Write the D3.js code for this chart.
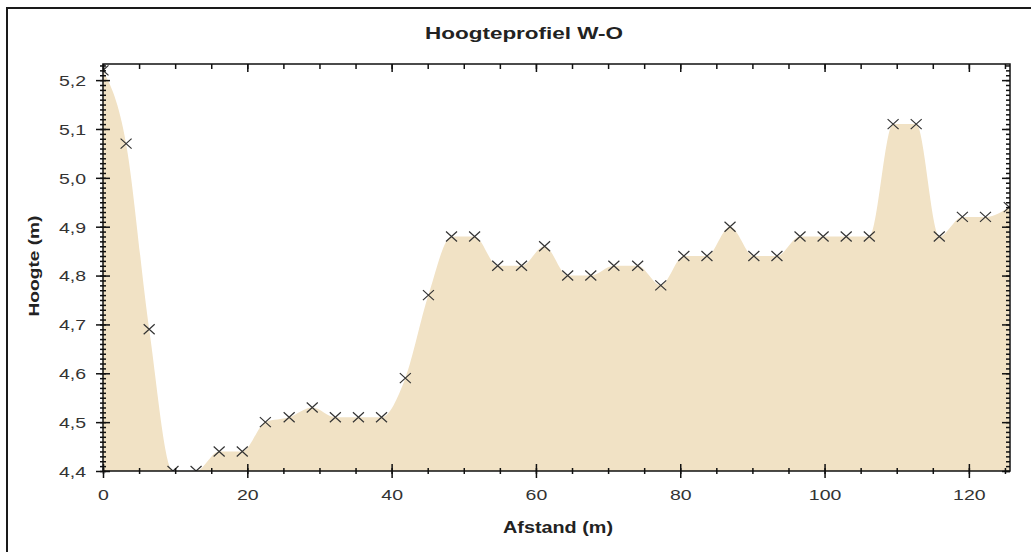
<!DOCTYPE html>
<html>
<head>
<meta charset="utf-8">
<script src="https://cdn.jsdelivr.net/npm/d3@7"></script>
<style>
  html, body { margin: 0; padding: 0; background: #ffffff; }
  svg { display: block; }
  text { font-family: "Liberation Sans", Arial, sans-serif; }
</style>
</head>
<body>
<svg id="chart" width="1031" height="552"></svg>
<script>
// ---- data ----
const distances = [0, 3.2, 6.4, 9.7, 12.9, 16.1, 19.3, 22.5, 25.8, 29.0,
  32.2, 35.4, 38.6, 41.9, 45.1, 48.3, 51.5, 54.7, 58.0, 61.2,
  64.4, 67.6, 70.8, 74.1, 77.3, 80.5, 83.7, 86.9, 90.2, 93.4,
  96.6, 99.8, 103.0, 106.2, 109.5, 112.7, 115.9, 119.1, 122.3, 125.6];
const heights = [5.22, 5.07, 4.69, 4.40, 4.40, 4.44, 4.44, 4.50, 4.51, 4.53,
  4.51, 4.51, 4.51, 4.59, 4.76, 4.88, 4.88, 4.82, 4.82, 4.86,
  4.80, 4.80, 4.82, 4.82, 4.78, 4.84, 4.84, 4.90, 4.84, 4.84,
  4.88, 4.88, 4.88, 4.88, 5.11, 5.11, 4.88, 4.92, 4.92, 4.94];
const xMajorTicks = [0, 20, 40, 60, 80, 100, 120];
const yMajorTicks = [4.4, 4.5, 4.6, 4.7, 4.8, 4.9, 5.0, 5.1, 5.2];
const xDomain = [0, 125.7];
const yDomain = [4.4, 5.233];
const titleText = "Hoogteprofiel W-O";
const xLabelText = "Afstand (m)";
const yLabelText = "Hoogte (m)";

(function () {
const data = distances.map((d, i) => ({ x: d, y: heights[i] }));

const svg = d3.select("#chart");
const pL = 103, pR = 1010, pT = 64, pB = 471;

const x = d3.scaleLinear().domain(xDomain).range([pL, pR]);
const y = d3.scaleLinear().domain(yDomain).range([pB, pT]);

const xMinorTicks = d3.range(0, 126, 5);
const yMinorTicks = d3.range(440, 524, 1).map(v => v / 100);

const nl = d3.formatLocale({ decimal: ",", thousands: ".", grouping: [3], currency: ["", ""] });
const fmtY = nl.format(".1f");

// outer frame
svg.append("rect")
  .attr("x", 7).attr("y", 8)
  .attr("width", 1100).attr("height", 600)
  .attr("fill", "none").attr("stroke", "#1a1a1a").attr("stroke-width", 2);

// clip
svg.append("defs").append("clipPath").attr("id", "plotclip")
  .append("rect").attr("x", pL).attr("y", pT)
  .attr("width", pR - pL).attr("height", pB - pT);

const plot = svg.append("g").attr("clip-path", "url(#plotclip)");

const area = d3.area()
  .x(d => x(d.x))
  .y0(pB)
  .y1(d => y(d.y))
  .curve(d3.curveMonotoneX);

plot.append("path")
  .datum(data)
  .attr("d", area)
  .attr("fill", "#f1e2c5");

// markers (x crosses)
const mk = plot.append("g").attr("stroke", "#333").attr("stroke-width", 1.2).attr("fill", "none");
mk.selectAll("path.mark").data(data).join("path")
  .attr("class", "mark")
  .attr("d", d => {
    const cx = x(d.x), cy = y(d.y), hw = 5.5, hh = 5;
    return `M${cx - hw},${cy - hh}L${cx + hw},${cy + hh}M${cx - hw},${cy + hh}L${cx + hw},${cy - hh}`;
  });

function styleAxis(g) {
  g.select(".domain").remove();
  g.selectAll(".tick line").attr("stroke", "#111").attr("stroke-width", 1.5);
}

// bottom axis: crossing ticks
svg.append("g").attr("transform", `translate(0,${pB})`)
  .call(d3.axisBottom(x).tickValues(xMinorTicks).tickSize(3).tickFormat(""))
  .call(styleAxis);
svg.append("g").attr("transform", `translate(0,${pB})`)
  .call(d3.axisTop(x).tickValues(xMinorTicks).tickSize(3).tickFormat(""))
  .call(styleAxis);
svg.append("g").attr("transform", `translate(0,${pB})`)
  .call(d3.axisBottom(x).tickValues(xMajorTicks).tickSize(7).tickFormat(""))
  .call(styleAxis);
svg.append("g").attr("transform", `translate(0,${pB})`)
  .call(d3.axisTop(x).tickValues(xMajorTicks).tickSize(7).tickFormat(""))
  .call(styleAxis);
const xLab = svg.append("g").attr("transform", `translate(0,${pB})`)
  .call(d3.axisBottom(x).tickValues(xMajorTicks).tickSize(0).tickFormat(d3.format("d")));
xLab.select(".domain").remove();
xLab.selectAll(".tick text")
  .attr("y", 29).attr("dy", 0)
  .attr("fill", "#333")
  .style("font-size", "15px")
  .attr("transform", "scale(1.3,1)");

// left axis: crossing ticks
svg.append("g").attr("transform", `translate(${pL},0)`)
  .call(d3.axisLeft(y).tickValues(yMinorTicks).tickSize(3).tickFormat(""))
  .call(styleAxis);
svg.append("g").attr("transform", `translate(${pL},0)`)
  .call(d3.axisRight(y).tickValues(yMinorTicks).tickSize(3).tickFormat(""))
  .call(styleAxis);
svg.append("g").attr("transform", `translate(${pL},0)`)
  .call(d3.axisLeft(y).tickValues(yMajorTicks).tickSize(7).tickFormat(""))
  .call(styleAxis);
svg.append("g").attr("transform", `translate(${pL},0)`)
  .call(d3.axisRight(y).tickValues(yMajorTicks).tickSize(7).tickFormat(""))
  .call(styleAxis);
const yLab = svg.append("g").attr("transform", `translate(${pL},0)`)
  .call(d3.axisLeft(y).tickValues(yMajorTicks).tickSize(0).tickFormat(fmtY));
yLab.select(".domain").remove();
yLab.selectAll(".tick text")
  .attr("x", -17 / 1.3).attr("dy", "0.36em")
  .attr("fill", "#333")
  .style("font-size", "15px")
  .attr("transform", "scale(1.3,1)");

// top axis (ticks inward)
svg.append("g").attr("transform", `translate(0,${pT})`)
  .call(d3.axisBottom(x).tickValues(xMinorTicks).tickSize(5).tickFormat(""))
  .call(styleAxis);
svg.append("g").attr("transform", `translate(0,${pT})`)
  .call(d3.axisBottom(x).tickValues(xMajorTicks).tickSize(8).tickFormat(""))
  .call(styleAxis);

// right axis (ticks inward)
svg.append("g").attr("transform", `translate(${pR},0)`)
  .call(d3.axisLeft(y).tickValues(yMinorTicks).tickSize(4).tickFormat(""))
  .call(styleAxis);
svg.append("g").attr("transform", `translate(${pR},0)`)
  .call(d3.axisLeft(y).tickValues(yMajorTicks).tickSize(8).tickFormat(""))
  .call(styleAxis);

// plot frame
svg.append("rect")
  .attr("x", pL).attr("y", pT)
  .attr("width", pR - pL).attr("height", pB - pT)
  .attr("fill", "none").attr("stroke", "#111").attr("stroke-width", 1.5);

// title and axis labels
svg.append("text")
  .attr("x", 524).attr("y", 39)
  .attr("text-anchor", "middle")
  .attr("textLength", 198).attr("lengthAdjust", "spacingAndGlyphs")
  .style("font-size", "16px").style("font-weight", "bold")
  .attr("fill", "#222")
  .text(titleText);

svg.append("text")
  .attr("x", 558).attr("y", 533)
  .attr("text-anchor", "middle")
  .attr("textLength", 110).attr("lengthAdjust", "spacingAndGlyphs")
  .style("font-size", "16px").style("font-weight", "bold")
  .attr("fill", "#222")
  .text(xLabelText);

svg.append("text")
  .attr("transform", "translate(39,266) rotate(-90)")
  .attr("text-anchor", "middle")
  .attr("textLength", 101).attr("lengthAdjust", "spacingAndGlyphs")
  .style("font-size", "15px").style("font-weight", "bold")
  .attr("fill", "#222")
  .text(yLabelText);
})();
</script>
</body>
</html>
